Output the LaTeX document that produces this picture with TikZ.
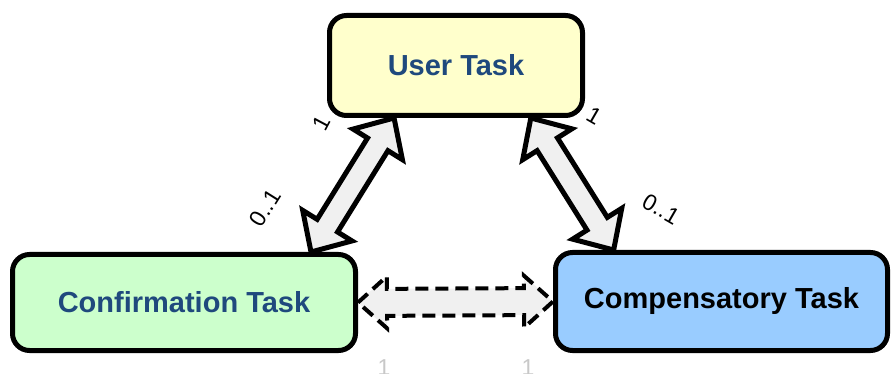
\documentclass[tikz,border=0pt]{standalone}
\usepackage{fontspec}
\setmainfont{Liberation Sans}
\usetikzlibrary{calc}

\definecolor{userfill}{HTML}{FFFFCC}
\definecolor{confirmfill}{HTML}{CCFFCC}
\definecolor{compfill}{HTML}{99CCFF}
\definecolor{tasktext}{HTML}{1F497D}
\definecolor{arrowfill}{HTML}{F0F0F0}
\definecolor{faintlabel}{HTML}{C8C8C8}

% block double arrow: style, from, to, head length, head half width, shaft half width
\newcommand\blockarrow[6]{%
  \coordinate (ba-p) at ($(#2)!#4!(#3)$);
  \coordinate (ba-q) at ($(#3)!#4!(#2)$);
  \draw[#1] (#2) -- ($(ba-p)!#5!90:(#3)$) -- ($(ba-p)!#6!90:(#3)$)
    -- ($(ba-q)!#6!-90:(#2)$) -- ($(ba-q)!#5!-90:(#2)$) -- (#3)
    -- ($(ba-q)!#5!90:(#2)$) -- ($(ba-q)!#6!90:(#2)$)
    -- ($(ba-p)!#6!-90:(#3)$) -- ($(ba-p)!#5!-90:(#3)$) -- cycle;}

\tikzset{
  task/.style={draw=black, line width=5pt, rounded corners=17pt,
    font=\fontsize{29}{34}\selectfont\bfseries, text=tasktext},
  link/.style={draw=black, line width=5pt, fill=arrowfill, line join=miter},
  optlink/.style={draw=black, line width=4pt, fill=arrowfill, line join=miter,
    dash pattern=on 13pt off 7pt},
  mult/.style={font=\fontsize{23}{27}\selectfont, text=black, inner sep=0pt},
  faintmult/.style={mult, text=faintlabel},
}

\begin{document}
\begin{tikzpicture}[x=1pt, y=-1pt]
\useasboundingbox (0,0) rectangle (892,374);
\clip (0,0) rectangle (892,374);

% tasks
\node[task, fill=userfill, minimum width=253pt, minimum height=100pt] (user) at (456,65.5) {User Task};
\node[task, fill=confirmfill, minimum width=343pt, minimum height=96pt] (confirm) at (184,302.5) {Confirmation Task};
\node[task, fill=compfill, text=black, minimum width=332pt, minimum height=98pt] (comp) at (721.5,301.5) {Compensatory Task};

% arrow end points on the task borders
\coordinate (uc) at ($(user.south west)!0.26!(user.south east)$);
\coordinate (cu) at ($(confirm.north west)!0.865!(confirm.north east)$);
\coordinate (up) at ($(user.south west)!0.79!(user.south east)$);
\coordinate (pu) at ($(comp.north west)!0.18!(comp.north east)$);
\coordinate (cp) at (confirm.east);
\coordinate (pc) at (comp.west);

% associations
\blockarrow{link}{uc}{cu}{31pt}{29pt}{12pt}
\blockarrow{link}{up}{pu}{31pt}{29pt}{12pt}
\blockarrow{optlink}{cp}{pc}{29pt}{26pt}{13.5pt}

% multiplicities
\node[mult, rotate=62] (m1) at (322,123) {1};
\node[mult, rotate=58] (m2) at (265,208) {0..1};
\node[mult, rotate=-30] (m3) at (594,116) {1};
\node[mult, rotate=-30] (m4) at (661,209) {0..1};
\node[faintmult] (m5) at (384,368) {1};
\node[faintmult] (m6) at (528,368) {1};
\end{tikzpicture}
\end{document}
